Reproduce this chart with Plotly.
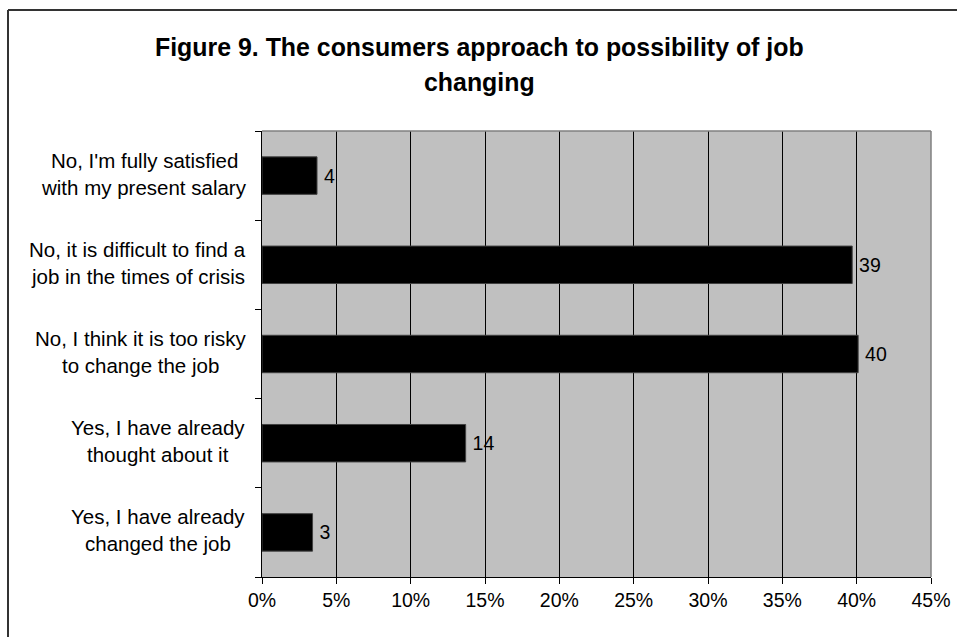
import plotly.graph_objects as go

title_lines = ["Figure 9. The consumers approach to possibility of job", "changing"]
categories = [
    ["No, I'm fully satisfied", "with my present salary"],
    ["No, it is difficult to find a", "job in the times of crisis"],
    ["No, I think it is too risky", "to change the job"],
    ["Yes, I have already", "thought about it"],
    ["Yes, I have already", "changed the job"],
]
values = [3.7, 39.7, 40.1, 13.7, 3.4]
value_labels = ["4", "39", "40", "14", "3"]
x_ticks = [0, 5, 10, 15, 20, 25, 30, 35, 40, 45]

FONT = "Liberation Sans, Arial, sans-serif"
CAT_SIZE = 20.5
TICK_SIZE = 19.5

# approximate Arial advance widths (per em) to centre two-line label blocks
AW = {" ": .278, ",": .278, ".": .278, "'": .191, "a": .556, "b": .556, "c": .5,
      "d": .556, "e": .556, "f": .278, "g": .556, "h": .556, "i": .222, "j": .222,
      "k": .5, "l": .222, "m": .833, "n": .556, "o": .556, "p": .556, "q": .556,
      "r": .333, "s": .5, "t": .278, "u": .556, "v": .5, "w": .722, "x": .5,
      "y": .5, "z": .5, "N": .722, "I": .278, "Y": .667}

def text_w(s, size):
    return sum(AW.get(c, .556) for c in s) * size

n = len(categories)
ypos = [n - 1 - i for i in range(n)]

fig = go.Figure()
fig.add_trace(go.Bar(
    x=values, y=ypos, orientation="h",
    marker=dict(color="#000000", line=dict(color="#404040", width=1)),
    width=0.42,
    text=value_labels, texttemplate="\u2009%{text}", textposition="outside",
    textfont=dict(family=FONT, size=TICK_SIZE, color="#000000"),
    cliponaxis=False, hoverinfo="skip",
))

W, H = 957, 637
ml, mr, mt, mb = 262, 26, 131, 60
pw, ph = W - ml - mr, H - mt - mb

def px_x(px):
    return (px - ml) / pw

def px_y(py):
    return (H - mb - py) / ph

LABEL_RIGHT = 246
annotations = []
for i, lines in enumerate(categories):
    block_w = max(text_w(s, CAT_SIZE) for s in lines)
    cx = LABEL_RIGHT - block_w / 2
    for txt, shift in zip(lines, (15.5, -11.5)):
        annotations.append(dict(
            text=txt, x=px_x(cx), xref="paper", y=ypos[i], yref="y",
            xanchor="center", yanchor="middle", yshift=shift,
            showarrow=False, font=dict(family=FONT, size=CAT_SIZE, color="#000000"),
        ))

for line, py in zip(title_lines, (47, 82)):
    annotations.append(dict(
        text="<b>%s</b>" % line, x=px_x(479), xref="paper", y=px_y(py), yref="paper",
        xanchor="center", yanchor="middle", showarrow=False,
        font=dict(family=FONT, size=24.9, color="#000000"),
    ))

shapes = [
    dict(type="line", xref="paper", yref="paper", x0=0, x1=1, y0=1, y1=1,
         line=dict(color="#808080", width=1.5), layer="above"),
    dict(type="line", xref="paper", yref="paper", x0=1, x1=1, y0=0, y1=1,
         line=dict(color="#808080", width=1.5), layer="above"),
    dict(type="line", xref="paper", yref="paper", x0=px_x(8), x1=px_x(8), y0=px_y(10), y1=px_y(700),
         line=dict(color="#333333", width=2)),
    dict(type="line", xref="paper", yref="paper", x0=px_x(8), x1=px_x(1000), y0=px_y(10), y1=px_y(10),
         line=dict(color="#333333", width=2)),
]

fig.update_layout(
    width=W, height=H, autosize=False,
    margin=dict(l=ml, r=mr, t=mt, b=mb, pad=0, autoexpand=False),
    paper_bgcolor="#FFFFFF", plot_bgcolor="#C0C0C0",
    showlegend=False,
    annotations=annotations, shapes=shapes,
    xaxis=dict(
        range=[0, 45], tickvals=x_ticks, ticktext=["%d%%" % v for v in x_ticks],
        showgrid=True, gridcolor="#000000", gridwidth=1,
        showline=True, linecolor="#000000", linewidth=1,
        ticks="outside", ticklen=6, tickcolor="#000000", tickwidth=1,
        tickfont=dict(family=FONT, size=TICK_SIZE, color="#000000"),
        zeroline=False, fixedrange=True, automargin=False,
    ),
    yaxis=dict(
        range=[-0.5, n - 0.5], tickvals=[v - 0.5 for v in range(n + 1)],
        ticktext=[""] * (n + 1), showgrid=False,
        showline=True, linecolor="#000000", linewidth=1,
        ticks="outside", ticklen=6, tickcolor="#000000", tickwidth=1,
        zeroline=False, fixedrange=True, automargin=False,
    ),
)

fig.write_html("out.html")
